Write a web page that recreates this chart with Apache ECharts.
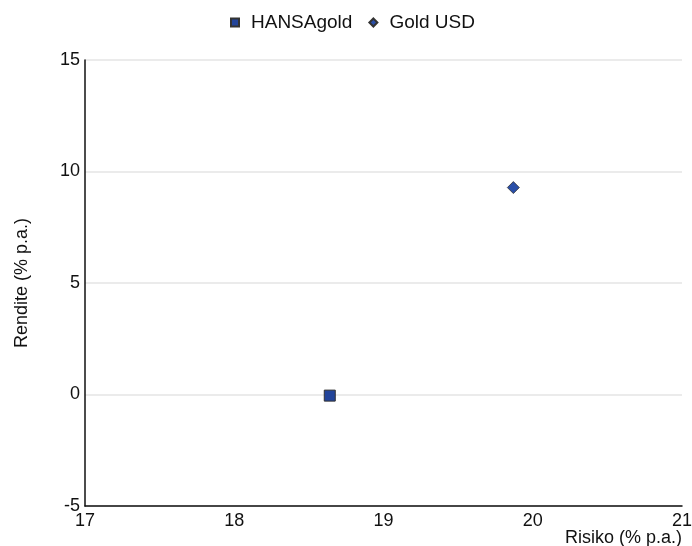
<!DOCTYPE html>
<html>
<head>
<meta charset="utf-8">
<script src="https://cdn.jsdelivr.net/npm/echarts@6/dist/echarts.min.js"></script>
<style>html,body{margin:0;padding:0;background:#fff}#c{width:692px;height:546px}</style>
</head>
<body>
<div id="c"></div>
<script>
var seriesNames = ['HANSAgold', 'Gold USD'];
var hansaGold = [[18.64, -0.05]];
var goldUSD = [[19.87, 9.28]];
var xTicks = [17, 18, 19, 20, 21];
var yTicks = [-5, 0, 5, 10, 15];

var font = 'Liberation Sans, Arial, Helvetica, sans-serif';
var chart = echarts.init(document.getElementById('c'));
chart.setOption({
  animation: false,
  textStyle: { fontFamily: font },
  legend: {
    top: 13, left: 230, padding: 0,
    itemWidth: 8, itemHeight: 8, itemGap: 16,
    textStyle: { fontSize: 19, color: '#111', fontFamily: font, padding: [0, 0, 0, 7] },
    data: [
      { name: seriesNames[0], icon: 'rect' },
      { name: seriesNames[1], icon: 'diamond' }
    ]
  },
  grid: { left: 85, right: 10, top: 60, bottom: 40, containLabel: false, outerBoundsMode: 'none' },
  xAxis: {
    type: 'value', min: xTicks[0], max: xTicks[xTicks.length - 1], interval: 1,
    name: 'Risiko (% p.a.)', nameLocation: 'end', nameGap: 0, nameMoveOverlap: false,
    nameTextStyle: { fontSize: 18, color: '#111', align: 'right', verticalAlign: 'top', padding: [23, 0, 0, 0], fontFamily: font },
    axisLine: { show: true, onZero: false, lineStyle: { color: '#111', width: 1.5 } },
    axisTick: { show: false },
    splitLine: { show: false },
    axisLabel: { fontSize: 18, color: '#111', margin: 6, fontFamily: font }
  },
  yAxis: {
    type: 'value', min: yTicks[0], max: yTicks[yTicks.length - 1], interval: 5,
    name: 'Rendite (% p.a.)', nameLocation: 'middle', nameGap: 54, nameRotate: 90,
    nameTextStyle: { fontSize: 18, color: '#111', fontFamily: font },
    axisLine: { show: true, onZero: false, lineStyle: { color: '#111', width: 1.5 } },
    axisTick: { show: false },
    splitLine: { show: true, lineStyle: { color: '#e4e4e4', width: 1.5 } },
    axisLabel: { fontSize: 18, color: '#111', margin: 5, fontFamily: font }
  },
  series: [
    {
      name: seriesNames[0], type: 'scatter', data: hansaGold,
      symbol: 'rect', symbolSize: 11,
      itemStyle: { color: '#22449a', borderColor: '#333', borderWidth: 1, opacity: 1 }
    },
    {
      name: seriesNames[1], type: 'scatter', data: goldUSD,
      symbol: 'diamond', symbolSize: 12,
      itemStyle: { color: '#2a4fa8', borderColor: '#333', borderWidth: 0.8, opacity: 1 }
    }
  ]
});
</script>
</body>
</html>
